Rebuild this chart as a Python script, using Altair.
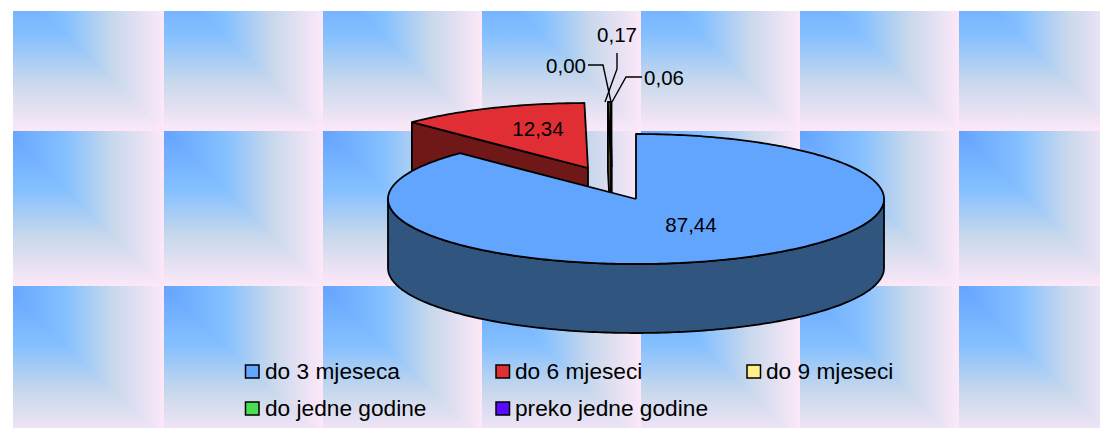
import math
import altair as alt
import pandas as pd

# ---- chart values
categories = ["do 3 mjeseca", "do 6 mjeseci", "do 9 mjeseci", "do jedne godine", "preko jedne godine"]
values = [87.44, 12.34, 0.17, 0.06, 0.00]
top_colors = ["#62a5ff", "#e02e34", "#fff188", "#48e050", "#5a0aff"]
wall_colors = ["#30557f", "#701818", "#7f7840", "#247028", "#2d0580"]
explode_x = [0, -48, -24.5, -24.5, -24.5]
explode_y = [0, -31, -32, -32, -32]
label_text = ["87,44", "12,34", "0,17", "0,06", "0,00"]
label_x = [691, 538, 617, 664, 566]
label_y = [225.5, 129.5, 35.5, 78.5, 66.5]

# ---- geometry of the tilted pie, in picture pixels
CX, CY, RX, RY, DEPTH = 636, 199, 248, 65, 69
X0, X1, Y0, Y1 = 13, 1100, 11, 428

tile_x = [5, 164, 323, 482, 641, 800, 959]
tile_y = [-24, 131, 286]
TW, TH = 159, 155

stops = [
    {"offset": 0, "color": "#64a3ff"},
    {"offset": 0.38, "color": "#84c0ff"},
    {"offset": 0.68, "color": "#c8d8ec"},
    {"offset": 1, "color": "#fce8f8"},
]
grad_h = {"gradient": "linear", "x1": 0, "y1": 0, "x2": 1, "y2": 0, "stops": stops}
grad_v = {"gradient": "linear", "x1": 0, "y1": 0, "x2": 0, "y2": 1, "stops": stops}

X = alt.X("x:Q", scale=alt.Scale(domain=[X0, X1], nice=False, zero=False), axis=None)
Y = alt.Y("y:Q", scale=alt.Scale(domain=[Y1, Y0], nice=False, zero=False), axis=None)
Y2 = alt.Y2("y2:Q")
X2 = alt.X2("x2:Q")


def rim(cx, cy, deg):
    a = math.radians(deg)
    return (cx + RX * math.sin(a), cy - RY * math.cos(a))


def scan(poly):
    xs = sorted({round(p[0], 3) for p in poly})
    rows = []
    n = len(poly)
    for a, b in zip(xs, xs[1:]):
        m = (a + b) / 2
        hits = []
        for k in range(n):
            p, q = poly[k], poly[(k + 1) % n]
            lo, hi = min(p[0], q[0]), max(p[0], q[0])
            if lo <= m <= hi and hi > lo:
                f = lambda v: p[1] + (q[1] - p[1]) * (v - p[0]) / (q[0] - p[0])
                hits.append((f(m), f(a), f(b)))
        if len(hits) < 2:
            continue
        hits.sort()
        t, u = hits[0], hits[-1]
        rows.append({"x": a, "y": t[1], "y2": u[1]})
        rows.append({"x": b, "y": t[2], "y2": u[2]})
    return pd.DataFrame(rows)


def polygon_layers(poly, fill, sw=1.8):
    area = alt.Chart(scan(poly)).mark_area(color=fill, orient="vertical", clip=True).encode(
        x=X, y=Y, y2=Y2)
    pts = poly + [poly[0]]
    outline = pd.DataFrame([{"x": p[0], "y": p[1], "i": i} for i, p in enumerate(pts)])
    line = alt.Chart(outline).mark_line(color="#000000", strokeWidth=sw, strokeJoin="round", clip=True).encode(
        x=X, y=Y, order=alt.Order("i:Q"))
    return [area, line]


layers = []

# ---- tiled background: a corner gradient made of a horizontal and a vertical one
rect_rows = [{"x": x, "x2": x + TW, "y": y, "y2": y + TH} for x in tile_x for y in tile_y]
layers.append(alt.Chart(pd.DataFrame(rect_rows)).mark_rect(color=grad_h, clip=True).encode(x=X, x2=X2, y=Y, y2=Y2))
tri_rows = []
for ix, x in enumerate(tile_x):
    for iy, y in enumerate(tile_y):
        tid = f"{ix}-{iy}"
        tri_rows.append({"x": x, "y": y, "y2": y + TH, "t": tid})
        tri_rows.append({"x": x + TW, "y": y + TH, "y2": y + TH, "t": tid})
layers.append(alt.Chart(pd.DataFrame(tri_rows)).mark_area(color=grad_v, orient="vertical", clip=True).encode(
    x=X, y=Y, y2=Y2, detail="t:N"))

# ---- pie slices
total = sum(values)
starts = []
acc = 0.0
for v in values:
    starts.append(acc)
    acc += v / total * 360

back, front = [], []
for i, v in enumerate(values):
    if v == 0:
        continue
    cx, cy = CX + explode_x[i], CY + explode_y[i]
    a0, a1 = starts[i], starts[i] + v / total * 360
    steps = max(1, int(a1 - a0))
    arc = [rim(cx, cy, a0 + (a1 - a0) * k / steps) for k in range(steps + 1)]
    top = [(cx, cy)] + arc
    if i == 0:
        lower = [rim(cx, cy, d) for d in range(90, 271)]
        wall = lower + [(p[0], p[1] + DEPTH) for p in reversed(lower)]
        front += polygon_layers(wall, wall_colors[i]) + polygon_layers(top, top_colors[i])
    else:
        e = arc[0]
        wall = [e, (cx, cy), (cx, cy + DEPTH), (e[0], e[1] + DEPTH)]
        back += polygon_layers(wall, wall_colors[i]) + polygon_layers(top, top_colors[i])
layers += back + front

# ---- leader lines of the tiny slices
leaders = [
    [(588, 65), (603, 65), (611, 102)],
    [(617, 53), (617, 69), (605, 102)],
    [(642, 77), (626, 77), (612, 102)],
]
lead_rows = [{"x": p[0], "y": p[1], "i": k, "s": s} for s, l in enumerate(leaders) for k, p in enumerate(l)]
layers.append(alt.Chart(pd.DataFrame(lead_rows)).mark_line(color="#000000", strokeWidth=1.4, clip=True).encode(
    x=X, y=Y, detail="s:N", order=alt.Order("i:Q")))

# ---- value labels
FONT = "Liberation Sans"
layers.append(alt.Chart(pd.DataFrame({"x": label_x, "y": label_y, "t": label_text})).mark_text(
    font=FONT, fontSize=20.5, color="#000000", align="center", baseline="middle").encode(x=X, y=Y, text="t:N"))

# ---- legend
legend_col_box = [245.5, 496, 747, 245.5, 496]
legend_col_txt = [265, 515, 766, 265, 515]
legend_row = [372, 372, 372, 409, 409]
box = pd.DataFrame({
    "x": legend_col_box,
    "x2": [b + 13.5 for b in legend_col_box],
    "y": [r - 7 for r in legend_row],
    "y2": [r + 6 for r in legend_row],
    "c": categories,
})
layers.append(alt.Chart(box).mark_rect(stroke="#000000", strokeWidth=1.5).encode(
    x=X, x2=X2, y=Y, y2=Y2,
    fill=alt.Fill("c:N", scale=alt.Scale(domain=categories, range=top_colors), legend=None)))
layers.append(alt.Chart(pd.DataFrame({"x": legend_col_txt, "y": legend_row, "t": categories})).mark_text(
    font=FONT, fontSize=22.7, color="#000000", align="left", baseline="middle").encode(x=X, y=Y, text="t:N"))

chart = alt.layer(*layers).properties(
    width=X1 - X0, height=Y1 - Y0,
    padding={"left": 5, "top": 3, "right": 0, "bottom": 0},
    autosize=alt.AutoSizeParams(type="none"),
    background="#ffffff",
).configure_view(stroke=None)

chart.save("out.html", embed_options={"renderer": "svg", "actions": False})
